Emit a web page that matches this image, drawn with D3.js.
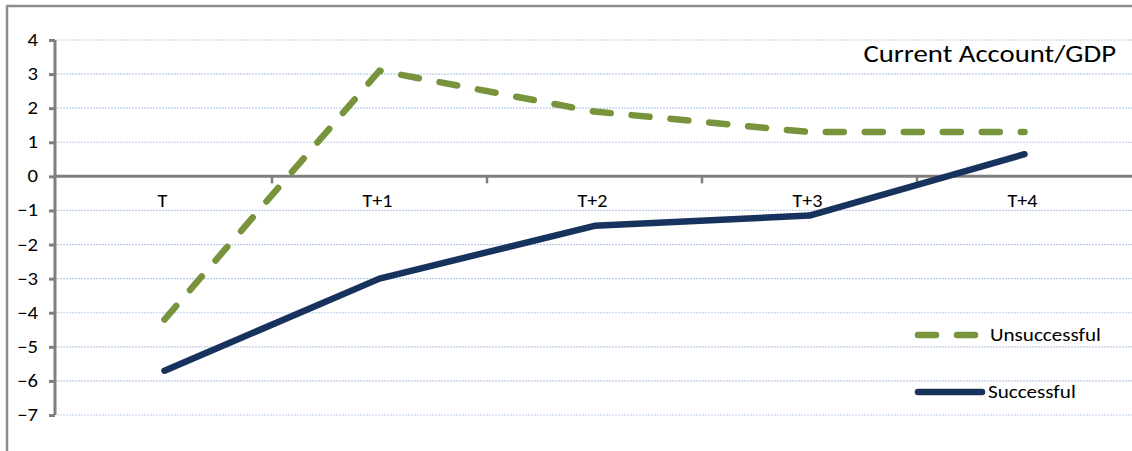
<!DOCTYPE html>
<html><head><meta charset="utf-8">
<script src="https://cdn.jsdelivr.net/npm/d3@7"></script>
<style>body{margin:0;background:#fff}svg{display:block}text{font-family:Calibri,Carlito,"Liberation Sans","DejaVu Sans",sans-serif}</style>
</head><body><svg id="c" width="1132" height="451"></svg>
<script>
const categories = ["T","T+1","T+2","T+3","T+4"];
const unsuccessful = [-4.2, 3.1, 1.9, 1.3, 1.3];
const successful = [-5.7, -3.0, -1.45, -1.15, 0.65];
const yTicks = [4,3,2,1,0,-1,-2,-3,-4,-5,-6,-7];
const title = "Current Account/GDP";

const svg = d3.select("#c");
const x = d3.scaleBand().domain(categories).range([57, 1132]).padding(0);
const y = d3.scaleLinear().domain([-7, 4]).range([415, 40]);
const xc = d => x(d) + x.bandwidth()/2;

function stext(g, px, py, str, size, sx, anchor){
  return g.append("text").attr("transform",`translate(${px},${py}) scale(${sx},1)`)
    .attr("text-anchor",anchor).attr("font-size",size).attr("fill","#000").text(str);
}

// border
svg.append("line").attr("x1",7).attr("x2",1132).attr("y1",6).attr("y2",6).attr("stroke","#8c8c8c").attr("stroke-width",2.5);
svg.append("line").attr("x1",7).attr("x2",7).attr("y1",5).attr("y2",451).attr("stroke","#8c8c8c").attr("stroke-width",2.5);

// gridlines
svg.append("g").selectAll("line").data(yTicks.filter(t=>t!==0)).join("line")
  .attr("x1",57).attr("x2",1132).attr("y1",d=>y(d)).attr("y2",d=>y(d))
  .attr("stroke","#b9cde5").attr("stroke-width",1.2).attr("stroke-dasharray","2,1");

// y axis
const yAxis = svg.append("g").attr("transform","translate(55,0)")
  .call(d3.axisLeft(y).tickValues(yTicks).tickSize(6).tickFormat(""));
yAxis.select(".domain").attr("stroke","#7f7f7f").attr("stroke-width",3).attr("d",`M0,${y(4)}V${y(-7)}`);
yAxis.selectAll(".tick line").attr("stroke","#7f7f7f").attr("stroke-width",3);
const yl = svg.append("g");
yTicks.forEach(t => stext(yl, 38, y(t)+6, d3.format("d")(t), 18, 1.15, "end"));

// x axis at zero
const xAxis = svg.append("g").attr("transform",`translate(0,${y(0)})`)
  .call(d3.axisBottom(x).tickSize(0).tickFormat(""));
xAxis.select(".domain").attr("stroke","#7f7f7f").attr("stroke-width",3).attr("d","M55,0H1132");
svg.append("g").selectAll("line").data(categories.slice(1)).join("line")
  .attr("x1",d=>x(d)).attr("x2",d=>x(d)).attr("y1",y(0)).attr("y2",y(0)+7)
  .attr("stroke","#7f7f7f").attr("stroke-width",2.5);
const xl = svg.append("g");
categories.forEach(c => stext(xl, xc(c)-2, y(0)+31, c, 18, 1.12, "middle"));

const line = d3.line().x((d,i)=>xc(categories[i])).y(d=>y(d));
svg.append("path").datum(unsuccessful).attr("d",line).attr("fill","none")
  .attr("stroke","#77933c").attr("stroke-width",6.5).attr("stroke-linecap","round")
  .attr("stroke-dasharray","18,21");
svg.append("path").datum(successful).attr("d",line).attr("fill","none")
  .attr("stroke","#17325c").attr("stroke-width",6.5).attr("stroke-linecap","round").attr("stroke-linejoin","round");

// title
stext(svg, 1116, 62, title, 25, 1.15, "end");

// legend
const leg = svg.append("g");
leg.append("line").attr("x1",918).attr("x2",978).attr("y1",335).attr("y2",335)
  .attr("stroke","#77933c").attr("stroke-width",6.5).attr("stroke-linecap","round").attr("stroke-dasharray","18,21");
stext(leg, 990, 341, "Unsuccessful", 19, 1.11, "start");
leg.append("line").attr("x1",918).attr("x2",982).attr("y1",392).attr("y2",392)
  .attr("stroke","#17325c").attr("stroke-width",6.5).attr("stroke-linecap","round");
stext(leg, 988, 398, "Successful", 19, 1.11, "start");
</script></body></html>
